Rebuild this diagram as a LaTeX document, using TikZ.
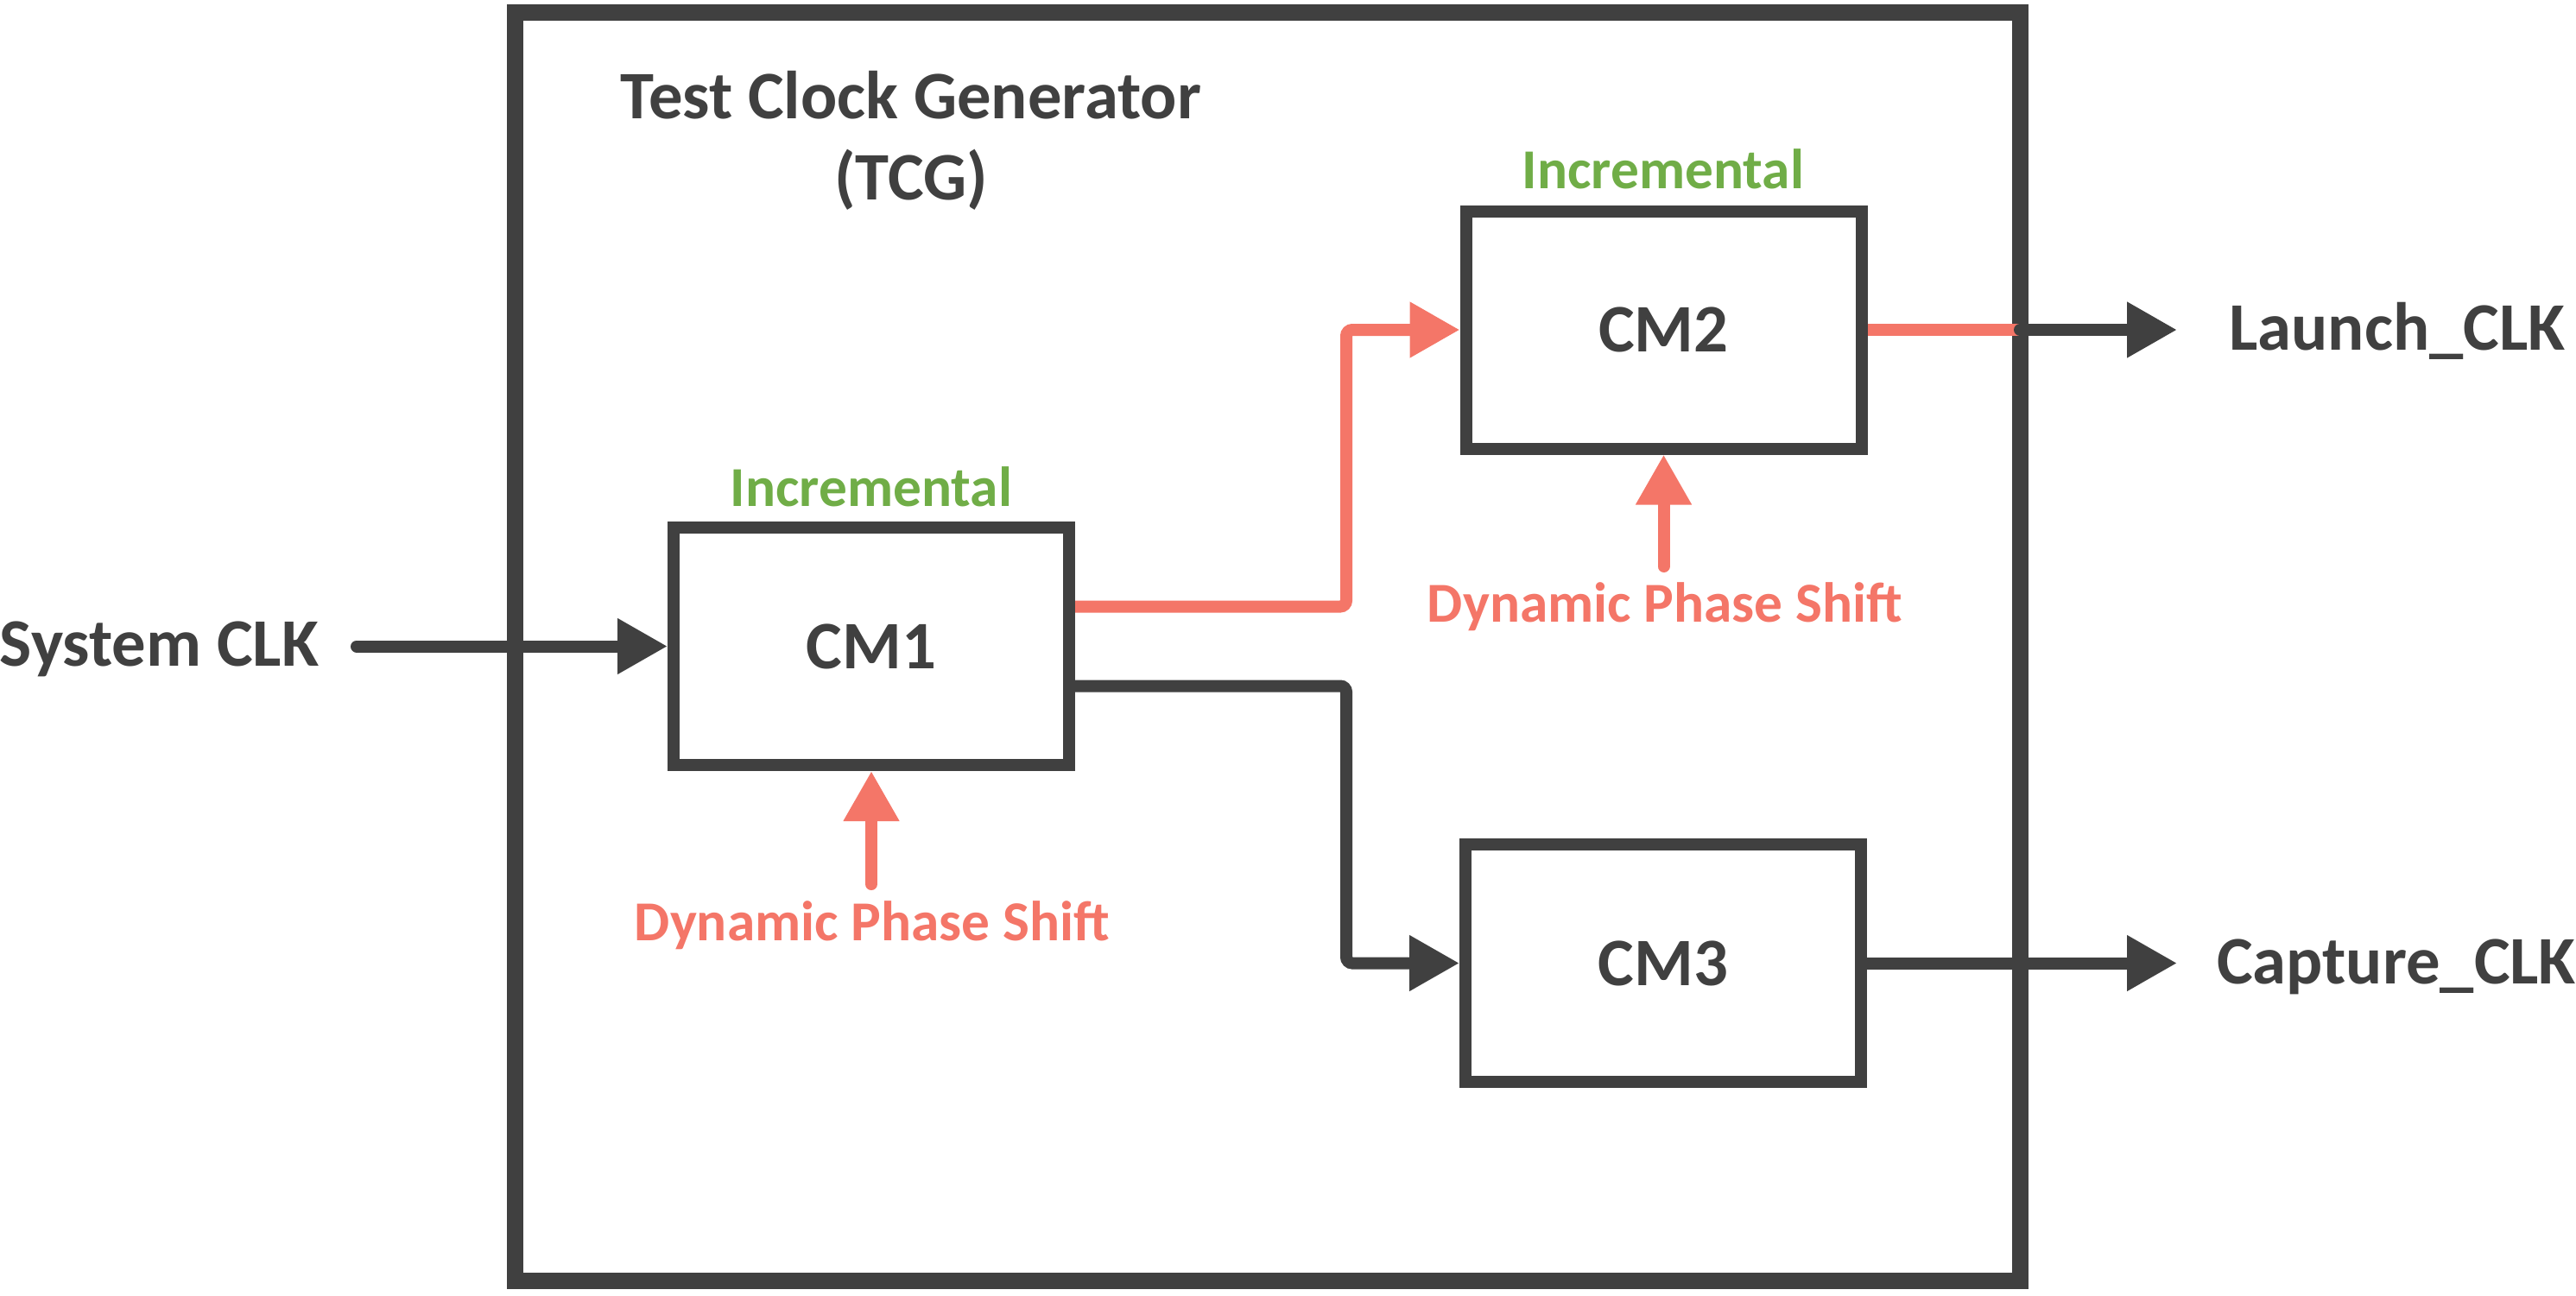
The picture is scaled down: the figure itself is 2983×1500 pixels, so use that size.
\documentclass[tikz,border=0pt]{standalone}
\usepackage{fontspec}
\setmainfont{Carlito}
\usetikzlibrary{arrows.meta}
\definecolor{dark}{HTML}{404040}
\definecolor{salmon}{HTML}{F47668}
\definecolor{grn}{HTML}{70AD47}
\begin{document}
\begin{tikzpicture}[x=0.1mm,y=-0.1mm,
  big/.style={font=\bfseries\fontsize{22.4}{27}\selectfont, text=dark, inner sep=0pt},
  small/.style={font=\bfseries\fontsize{18.6}{22}\selectfont, inner sep=0pt},
  cmbox/.style={draw=dark, line width=1.4mm, minimum width=45.8mm, minimum height=27.5mm, big},
  seg/.style={color=dark, line width=1.4mm, line cap=butt, rounded corners=0.7mm},
  conn/.style={seg, -{Triangle[length=5.8mm,width=6.1mm]}},
  sseg/.style={seg, color=salmon},
  sconn/.style={conn, color=salmon},
  roundtail/.style={line cap=round}
]
\useasboundingbox (0,0) rectangle (2983,1500);
% outer block
\node[draw=dark, line width=1.9mm, minimum width=174.3mm, minimum height=146.9mm] (tcg) at (1467.5,749) {};
\node[big, anchor=base] (t1) at (1055,138) {Test Clock Generator};
\node[big, anchor=base] (t2) at (1055,232) {(TCG)};
% clock modules
\node[cmbox] (cm1) at (1009,748.5) {CM1};
\node[cmbox] (cm2) at (1926.5,382) {CM2};
\node[cmbox] (cm3) at (1926,1115.5) {CM3};
% labels
\node[small, text=grn, anchor=base] (inc1) at (1009,586) {Incremental};
\node[small, text=grn, anchor=base] (inc2) at (1926,218) {Incremental};
\node[small, text=salmon, anchor=base] (dps1) at (1010,1089) {Dynamic Phase Shift};
\node[small, text=salmon, anchor=base] (dps2) at (1928,720.5) {Dynamic Phase Shift};
\node[big, anchor=base] (sys) at (184.5,771.7) {System CLK};
\node[big, anchor=base] (launch) at (2776,405) {Launch\_CLK};
\node[big, anchor=base] (capture) at (2775,1139) {Capture\_CLK};
% helper coordinates
\coordinate (sysout) at (413,748.5);
\coordinate (jx) at (1559,0);
\coordinate (o1) at ([yshift=4.6mm]cm1.east);
\coordinate (o2) at ([yshift=-4.6mm]cm1.east);
\coordinate (lj) at (2339,382);
\coordinate (ltip) at (2521,382);
\coordinate (ctip) at (2521,1115.5);
\coordinate (d1) at (1009,1024);
\coordinate (d2) at (1926.5,656);
% connectors
\draw[conn, roundtail] (sysout) -- (cm1.west);
\draw[sconn] (o1) -- (o1 -| jx) |- (cm2.west);
\draw[conn] (o2) -- (o2 -| jx) |- (cm3.west);
\draw[sseg] (cm2.east) -- (lj);
\draw[conn, roundtail] (lj) -- (ltip);
\draw[conn] (cm3.east) -- (ctip);
\draw[sconn, roundtail] (d1) -- (cm1.south);
\draw[sconn, roundtail] (d2) -- (cm2.south);
\end{tikzpicture}
\end{document}
